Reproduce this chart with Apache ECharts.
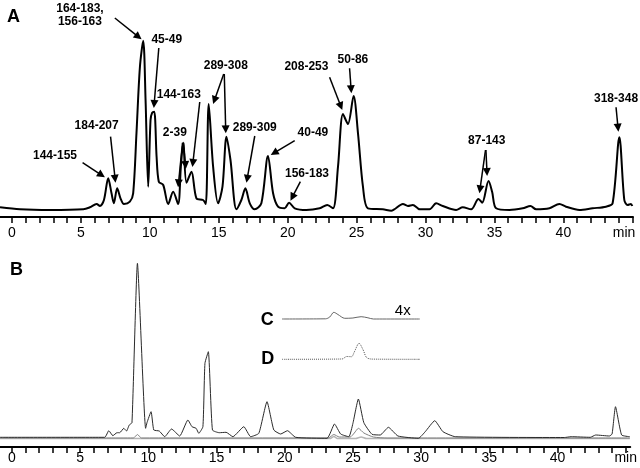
<!DOCTYPE html>
<html>
<head>
<meta charset="utf-8">
<script src="https://cdn.jsdelivr.net/npm/echarts@6/dist/echarts.min.js"></script>
<style>
  html, body { margin: 0; padding: 0; background: #fff; }
  #chart { width: 640px; height: 468px; }
</style>
</head>
<body>
<div id="chart"></div>
<script>
// ---- panel A: peptide map (min, detector signal) ----
const aTime = [-0.87, 0.58, 2.75, 5.17, 5.65, 6.14, 6.38, 6.67, 6.98, 7.22, 7.39, 7.63, 7.87, 8.12, 8.55, 8.79,
  9.03, 9.28, 9.52, 9.69, 9.88, 10.05, 10.17, 10.32, 10.49, 10.65, 10.97, 11.33, 11.69, 12.05, 12.25, 12.42,
  12.66, 13.02, 13.38, 13.86, 14.06, 14.27, 14.59, 14.95, 15.27, 15.56, 15.85, 16.28, 16.64, 16.93, 17.25,
  17.61, 18.09, 18.57, 18.94, 19.3, 19.78, 20.1, 20.51, 21.35, 22.32, 22.87, 23.29, 23.65, 24.01, 24.37,
  24.78, 25.1, 25.46, 25.82, 26.9, 27.51, 28.36, 28.72, 29.08, 29.44, 29.57, 30.29, 30.77, 31.25, 32.22,
  32.7, 33.31, 33.84, 34.11, 34.57, 34.83, 35.12, 36.09, 37.05, 37.61, 38.02, 38.99, 39.71, 40.19, 41.16,
  42.12, 43.09, 43.57, 44.06, 44.42, 44.66, 44.9, 45.0];
const aSignal = [2.7, 0.7, 0, 0.7, 2.7, 6, 4, 10, 31.7, 16.7, 6.7, 21.7, 11.7, 6, 8.3, 16.7,
  76.7, 143, 169.3, 110, 23.3, 90, 97.3, 98.3, 53.3, 28.3, 25, 6, 18.3, 6, 43.3, 67.3,
  27.3, 38.3, 11.7, 10, 6, 106, 43.3, 6.7, 23.3, 73.3, 50, 0.7, 10, 21.7, 6.7,
  0.7, 6.7, 54, 16.7, 3.3, 1.7, 7.3, 1.7, 0, 1.7, 5, 1.7, 43.3, 96, 86,
  114, 76.7, 23.3, 1.7, 0.7, -0.7, 6, 4, 5, 1.7, 0.7, 0.7, 6.7, 4, 0,
  2.7, 0.7, 11, 7.3, 29, 18.3, 1.7, 0, 1.7, 4, 0.7, 1.7, 6, 3.3, 0,
  1.7, 3.3, 6.7, 72.7, 10, 5, 6, 4];

// peak annotations: text, anchor time, anchor level
const peakNames = ['164-183,\n156-163', '45-49', '144-163', '2-39', '184-207', '144-155', '289-308',
  '289-309', '40-49', '156-183', '208-253', '50-86', '87-143', '318-348'];
const peakNameTime = [4.93, 11.23, 12.10, 11.81, 6.14, 3.12, 15.51, 17.61, 21.83, 21.40, 21.36, 24.73, 34.44, 43.82];
const peakNameLevel = [194.5, 170, 115, 77, 84, 54, 144.3, 82.7, 77.3, 36.7, 143.3, 150.7, 69.3, 111.7];

// arrows: [fromTime, fromLevel, toTime, toLevel]
const peakArrows = [
  [7.46, 192, 9.40, 170.7],
  [10.65, 162, 10.29, 102],
  [13.62, 108, 13.09, 43],
  [12.37, 67.3, 12.05, 22.7],
  [12.45, 67.3, 12.61, 41],
  [7.15, 73.3, 7.51, 27.3],
  [5.12, 47.3, 6.74, 32.7],
  [15.36, 136, 14.59, 106],
  [15.40, 136, 15.51, 76.7],
  [17.61, 74, 17.01, 27.3],
  [20.51, 69.3, 18.77, 55],
  [20.92, 28.3, 20.20, 9.3],
  [23.04, 132.7, 23.96, 100],
  [24.49, 141.7, 24.62, 116.7],
  [34.35, 60, 33.91, 16.7],
  [34.38, 60, 34.47, 34],
  [43.82, 102.7, 43.99, 78.3]
];

// ---- panel B: overlaid digests ----
const bTime = [-0.876, 6.8, 7.1, 7.4, 7.7, 7.9, 8.2, 8.4, 8.6, 8.8, 9.2, 9.8, 9.9, 10.2, 10.4, 10.8, 11.2,
  11.7, 12.3, 12.9, 13.2, 13.5, 13.7, 14.0, 14.15, 14.4, 14.7, 15.2, 15.7, 16.2, 17.0, 17.5, 18.1, 18.7,
  19.2, 19.7, 20.2, 20.8, 23.1, 23.65, 24.1, 24.7, 25.0, 25.4, 25.8, 26.4, 27.0, 27.6, 28.3, 29.8, 30.3,
  31.0, 31.6, 32.5, 40.5, 41.0, 42.4, 42.8, 43.8, 44.0, 44.25, 44.7, 45.3];
const bMain = [0.7, 0.7, 7.3, 2.3, 5.3, 5.3, 9.7, 7, 13, 15.3, 174.7, 9.7, 15.3, 26.3, 8, 7, 1.3,
  9, 2, 18, 11.3, 9.7, 4.7, 11.3, 74.7, 86.3, 8, 5.3, 5.7, 1.3, 11.3, 1.3, 4.7, 36.3,
  8, 4, 7.3, 0.7, -0.3, 14, 4, 1.3, 14.7, 39, 15.3, 3.7, 3, 10.7, 2, -0.3, 6.3,
  17.3, 6.3, 1.3, 0.5, 1.3, 0.7, 3, 2, 4, 31.3, 3, 1.3];
const bTime2 = [-0.876, 8.9, 9.2, 9.5, 23.2, 23.6, 24.0, 24.8, 25.1, 25.4, 25.8, 26.5, 27.5, 45.3];
const bSecond = [0, 0, 3.5, 0, 0, 3.5, 1, 1, 5, 9.7, 5, 1, 0, 0];
const bTime3 = [-0.876, 23.3, 23.6, 23.9, 25.2, 25.6, 26.0, 45.3];
const bThird = [-0.6, -0.6, 1.5, -0.6, -0.6, 1, -0.6, -0.6];

// insets C and D (drawn offset above the B traces)
const cTime = [19.8, 23.0, 23.3, 23.6, 23.9, 24.4, 25.0, 25.6, 26.1, 26.5, 29.9];
const cSignal = [119, 119.2, 121, 125.7, 123.5, 119.7, 120, 121.3, 120.2, 119, 119];
const dTime = [19.8, 24.2, 24.55, 24.9, 25.1, 25.45, 25.75, 26.0, 26.4, 29.9];
const dSignal = [78.7, 79, 81.5, 81.3, 86, 94.7, 88, 80.5, 78.9, 78.7];
const insetNames = ['C', 'D', '4x'];
const insetNameTime = [18.72, 18.76, 28.65];
const insetNameLevel = [118, 79, 127];

const minuteTicks = [0, 1, 2, 3, 4, 5, 6, 7, 8, 9, 10, 11, 12, 13, 14, 15, 16, 17, 18, 19, 20, 21, 22,
  23, 24, 25, 26, 27, 28, 29, 30, 31, 32, 33, 34, 35, 36, 37, 38, 39, 40, 41, 42, 43, 44, 45];
const minuteLabels = [0, 5, 10, 15, 20, 25, 30, 35, 40];

const FONT = '"Liberation Sans", Arial, Helvetica, sans-serif';
const chart = echarts.init(document.getElementById('chart'));

function pairs(ts, vs) {
  return ts.map((t, i) => [t, vs[i]]);
}

function timeAxis(gridIndex, min, max, unitAt, margin) {
  return {
    type: 'value',
    gridIndex: gridIndex,
    min: min,
    max: max,
    axisLine: { show: true, onZero: false, lineStyle: { color: '#000', width: 2 } },
    axisTick: {
      show: true,
      customValues: minuteTicks,
      length: 6,
      lineStyle: { color: '#000', width: 1.5 }
    },
    axisLabel: {
      customValues: minuteLabels.concat([unitAt]),
      formatter: v => (v === unitAt ? 'min' : String(v)),
      color: '#000',
      fontSize: 14,
      fontFamily: FONT,
      margin: margin
    },
    splitLine: { show: false }
  };
}

function textPoints(names, ts, vs, size, weight) {
  return {
    type: 'scatter',
    symbolSize: 0,
    itemStyle: { color: '#000', opacity: 1 },
    clip: false,
    silent: true,
    data: names.map((n, i) => ({ name: n, value: [ts[i], vs[i]] })),
    label: {
      show: true,
      position: 'inside',
      formatter: '{b}',
      color: '#000',
      opacity: 1,
      textBorderWidth: 0,
      fontFamily: FONT,
      fontSize: size,
      fontWeight: weight,
      lineHeight: size + 1
    }
  };
}

const aLabels = textPoints(peakNames, peakNameTime, peakNameLevel, 12, 'bold');
aLabels.xAxisIndex = 0;
aLabels.yAxisIndex = 0;

const insetLabels = textPoints(insetNames, insetNameTime, insetNameLevel, 18, 'bold');
insetLabels.xAxisIndex = 1;
insetLabels.yAxisIndex = 1;
insetLabels.data[2].label = { fontSize: 15, fontWeight: 'normal' };

const option = {
  animation: false,
  backgroundColor: '#fff',
  grid: [
    { left: 0, right: 7, top: 0, height: 217 },
    { left: 0, right: 7, top: 253, height: 194 }
  ],
  xAxis: [
    timeAxis(0, -0.87, 45.05, 44.4, 9),
    timeAxis(1, -0.876, 45.33, 45, 4)
  ],
  yAxis: [
    { type: 'value', gridIndex: 0, min: -7, max: 210, show: false },
    { type: 'value', gridIndex: 1, min: -9, max: 185, show: false }
  ],
  graphic: [
    { type: 'text', left: 7, top: 8, style: { text: 'A', font: 'bold 18px ' + FONT, fill: '#000' } },
    { type: 'text', left: 10, top: 261, style: { text: 'B', font: 'bold 18px ' + FONT, fill: '#000' } }
  ],
  series: [
    {
      name: 'A',
      type: 'line',
      xAxisIndex: 0,
      yAxisIndex: 0,
      data: pairs(aTime, aSignal),
      smooth: 0.3,
      showSymbol: false,
      lineStyle: { color: '#000', width: 2 },
      z: 3
    },
    aLabels,
    {
      name: 'B3',
      type: 'line',
      xAxisIndex: 1,
      yAxisIndex: 1,
      data: pairs(bTime3, bThird),
      smooth: 0.2,
      showSymbol: false,
      lineStyle: { color: '#b5b5b5', width: 1.5 }
    },
    {
      name: 'B2',
      type: 'line',
      xAxisIndex: 1,
      yAxisIndex: 1,
      data: pairs(bTime2, bSecond),
      smooth: 0.2,
      showSymbol: false,
      lineStyle: { color: '#808080', width: 1 }
    },
    {
      name: 'B1',
      type: 'line',
      xAxisIndex: 1,
      yAxisIndex: 1,
      data: pairs(bTime, bMain),
      smooth: 0.15,
      showSymbol: false,
      lineStyle: { color: '#2a2a2a', width: 1 }
    },
    {
      name: 'C',
      type: 'line',
      xAxisIndex: 1,
      yAxisIndex: 1,
      data: pairs(cTime, cSignal),
      smooth: 0.3,
      showSymbol: false,
      lineStyle: { color: '#666', width: 1 }
    },
    {
      name: 'D',
      type: 'line',
      xAxisIndex: 1,
      yAxisIndex: 1,
      data: pairs(dTime, dSignal),
      smooth: 0.3,
      showSymbol: false,
      lineStyle: { color: '#555', width: 1, type: [1, 1] }
    },
    insetLabels
  ]
};

chart.setOption(option);

// arrows: pull the end back by half the head so the tip lands on the peak
const HEAD = 8;
const arrowData = peakArrows.map(a => {
  const p0 = chart.convertToPixel({ gridIndex: 0 }, [a[0], a[1]]);
  const p1 = chart.convertToPixel({ gridIndex: 0 }, [a[2], a[3]]);
  const dx = p1[0] - p0[0];
  const dy = p1[1] - p0[1];
  const len = Math.sqrt(dx * dx + dy * dy);
  const end = [p1[0] - dx / len * HEAD / 2, p1[1] - dy / len * HEAD / 2];
  const endData = chart.convertFromPixel({ gridIndex: 0 }, end);
  return [{ coord: [a[0], a[1]] }, { coord: endData }];
});

chart.setOption({
  series: [{}, {
    markLine: {
      silent: true,
      symbol: ['none', 'triangle'],
      symbolSize: HEAD,
      label: { show: false },
      lineStyle: { color: '#000', width: 1.5, type: 'solid' },
      itemStyle: { color: '#000' },
      data: arrowData
    }
  }]
});
</script>
</body>
</html>
